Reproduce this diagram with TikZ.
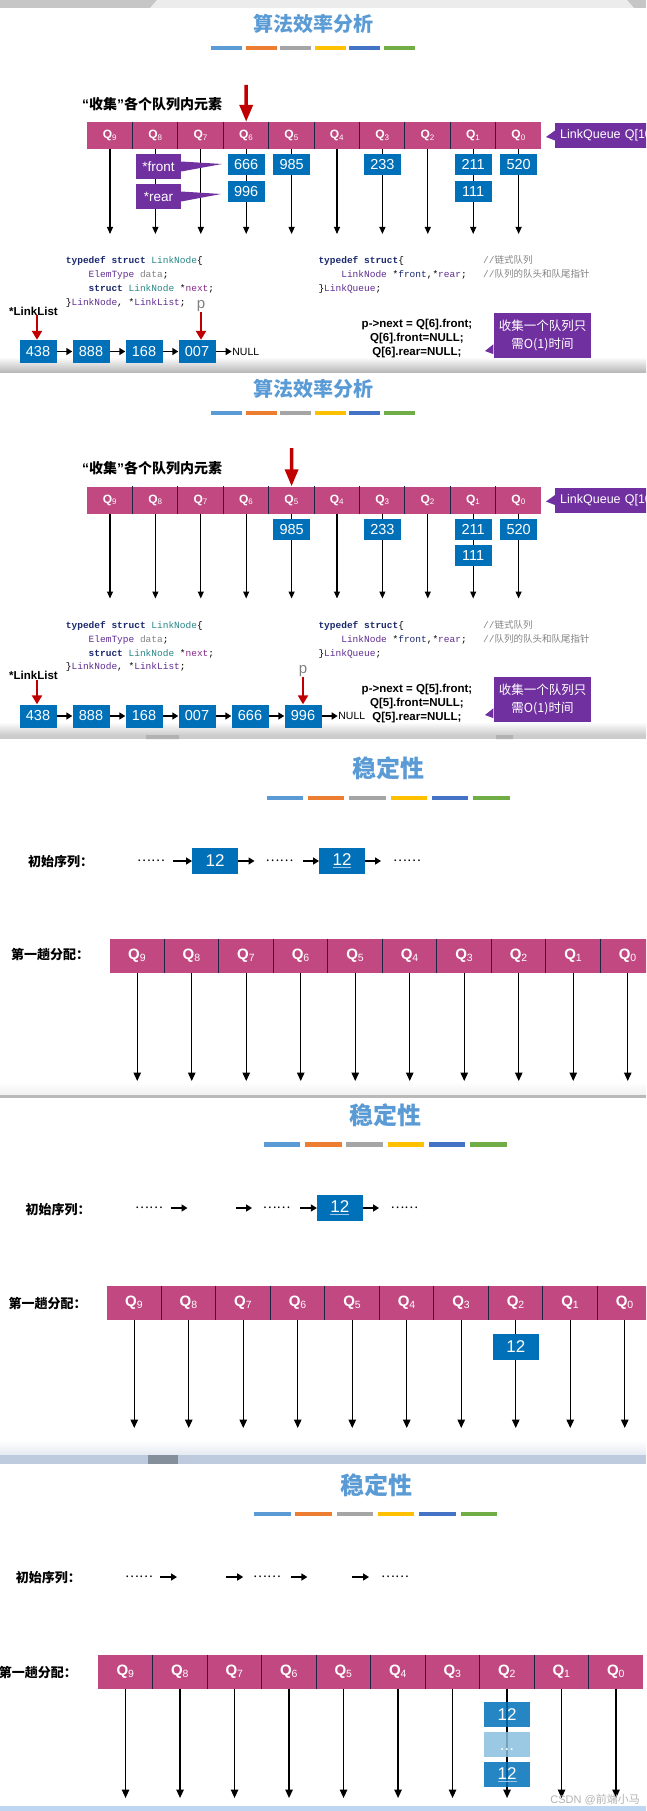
\documentclass[tikz,border=0pt]{standalone}
\usepackage{fontspec}
\setmainfont{Liberation Sans}
\setmonofont{Liberation Mono}
\newfontfamily\cjk{Noto Sans CJK SC}
\usetikzlibrary{arrows.meta,positioning}

\definecolor{qpink}{RGB}{193,72,128}
\definecolor{nblue}{RGB}{0,112,184}
\definecolor{lblue}{RGB}{138,190,222}
\definecolor{ppurple}{RGB}{112,48,160}
\definecolor{rred}{RGB}{192,0,0}
\definecolor{ttl}{RGB}{91,155,213}
\definecolor{bar1}{RGB}{91,155,213}
\definecolor{bar2}{RGB}{237,125,49}
\definecolor{bar3}{RGB}{165,165,165}
\definecolor{bar4}{RGB}{255,192,0}
\definecolor{bar5}{RGB}{68,114,196}
\definecolor{bar6}{RGB}{112,173,71}
\definecolor{qdiv}{RGB}{30,36,70}
\definecolor{kwc}{RGB}{26,40,110}
\definecolor{tyc}{RGB}{40,135,135}
\definecolor{vtc}{RGB}{95,45,145}
\definecolor{mgc}{RGB}{135,40,135}
\definecolor{cmt}{RGB}{130,130,130}
\definecolor{ulblue}{RGB}{160,200,235}
\definecolor{slate}{RGB}{190,202,222}
\definecolor{edgeblue}{RGB}{190,214,242}

\newcommand\fsz[1]{\fontsize{#1}{#1}\selectfont}
\newcommand\qn[1]{Q\textsubscript{\mdseries#1}}
\newcommand\ulnum[1]{{\color{ulblue}\underline{\textcolor{white}{#1}}}}
\newcommand\ckw[1]{\textcolor{kwc}{\textbf{#1}}}
\newcommand\cty[1]{\textcolor{tyc}{#1}}
\newcommand\cvt[1]{\textcolor{vtc}{#1}}
\newcommand\cmg[1]{\textcolor{mgc}{#1}}
\newcommand\cgr[1]{\textcolor{cmt}{#1}}
\newcommand\latq[1]{{\normalfont\bfseries#1}}

\begin{document}
\begin{tikzpicture}[x=1pt,y=-1pt,
  title/.style={text=ttl,font=\cjk\bfseries\fsz{20},inner sep=0},
  note/.style={font=\cjk\bfseries\fsz{14},inner sep=0},
  qcell/.style={fill=qpink,text=white,minimum width=45.4pt,minimum height=27pt,inner sep=0,font=\bfseries\fsz{12}},
  qbig/.style={qcell,minimum width=54.5pt,minimum height=33.5pt,font=\bfseries\fsz{15}},
  qsep/.style={draw=qdiv,line width=0.9pt},
  numbox/.style={fill=nblue,text=white,minimum width=37pt,minimum height=21pt,inner sep=0,font=\fsz{14.5}},
  lbox/.style={numbox,minimum height=23pt},
  bigbox/.style={numbox,minimum width=45.5pt,minimum height=25.5pt,font=\fsz{17}},
  down/.style={-{Triangle[width=6pt,length=7pt]},line width=1.1pt},
  downbig/.style={-{Triangle[width=7.5pt,length=8.5pt]},line width=1.3pt},
  link/.style={-{Triangle[width=7pt,length=6pt]},line width=1.8pt},
  redarr/.style={draw=rred,line width=3.5pt,-{Triangle[width=13pt,length=17pt]}},
  redsm/.style={draw=rred,line width=2.6pt,-{Triangle[width=10pt,length=9pt]}},
  ptr/.style={fill=ppurple,text=white,minimum width=45pt,minimum height=25pt,inner sep=0,font=\fsz{13.5}},
  lqlab/.style={fill=ppurple,text=white,anchor=west,text width=100pt,align=left,inner xsep=5pt,inner ysep=0,minimum height=25pt,font=\fsz{12.5}},
  pcall/.style={fill=ppurple,text=white,minimum width=97.7pt,minimum height=45pt,inner sep=0,align=center,font=\cjk\fontsize{12.5}{18}\selectfont},
  wedge/.style={fill=ppurple},
  code/.style={anchor=north west,align=left,inner sep=0,font=\ttfamily\fontsize{9.5}{13.9}\selectfont},
  ops/.style={align=center,inner sep=0,font=\bfseries\fontsize{11.5}{14}\selectfont},
  lltxt/.style={font=\bfseries\fsz{11.5},inner sep=0},
  plab/.style={text=gray,font=\fsz{15},inner sep=0},
  nulltxt/.style={font=\fsz{10.5},inner sep=0.5pt},
  lbl/.style={font=\cjk\bfseries\fsz{13},inner sep=0},
  dots/.style={font=\cjk\fsz{13},inner sep=0},
  wm/.style={text=gray!60,font=\fsz{11},inner sep=0}]
\useasboundingbox (0,0) rectangle (646,1811);
\clip (0,0) rectangle (646,1811);

% slide edges
\fill[gray!45] (0,0) rectangle (646,8);
\fill[gray!15] (150,8) -- (157,0) -- (627,0) -- (634,8) -- cycle;
\shade[top color=white,bottom color=gray!55] (0,357) rectangle (646,372);
\shade[top color=white,bottom color=gray!40] (0,722) rectangle (646,735);
\fill[gray!40] (0,735) rectangle (646,739);
\fill[gray!60] (146,735) rectangle (179,739) (496,735) rectangle (513,739);
\shade[top color=white,bottom color=gray!12] (0,1082) rectangle (646,1095);
\fill[gray!55] (0,1095) rectangle (646,1098);
\shade[top color=white,bottom color=slate!40] (0,1440) rectangle (646,1455);
\fill[slate] (0,1455) rectangle (646,1464);
\fill[slate!70!black] (148,1455) rectangle (178,1464);
\fill[edgeblue] (0,1806) rectangle (646,1811);

% collect slides
\foreach \p/\dy in {1/0,2/364.5}{
\begin{scope}[yshift=-\dy pt]
  \node[title] (t\p) at (313,24) {算法效率分析};
  \foreach \c [count=\j from 0] in {bar1,bar2,bar3,bar4,bar5,bar6}
    \fill[\c] ({211+34.6*\j},46) rectangle +(31,4.5);
  \node[note,anchor=west] (note\p) at (82,104) {\latq{“}收集\latq{”}各个队列内元素};
  \foreach \i in {0,...,9}
    \node[qcell] (q\p-\i) at ({110+45.4*(9-\i)},135.5) {\qn{\i}};
  \foreach \i in {0,...,8}
    \draw[qsep] (q\p-\i.north west) -- (q\p-\i.south west);
  \node[lqlab] (lq\p) at (555,135.5) {LinkQueue Q[10]};
  \coordinate (lqt\p) at (546,137);
  \fill[wedge] ([yshift=5pt]lq\p.west) -- (lqt\p) -- ([yshift=-5pt]lq\p.west) -- cycle;
  \foreach \i in {0,...,9}{
    \coordinate (e\p-\i) at ({110+45.4*(9-\i)},234);
    \draw[down] (q\p-\i) -- (e\p-\i);
  }
  \node[code] (cn\p) at (65.7,255.5) {\rule{0pt}{8pt}\ckw{typedef struct} \cty{LinkNode}\{\\
    \hphantom{xxxx}\cvt{ElemType} \cgr{data};\\
    \hphantom{xxxx}\ckw{struct} \cty{LinkNode} *\cmg{next};\\
    \}\cvt{LinkNode}, *\cvt{LinkList};};
  \node[code] (cq\p) at (318.3,255.5) {\rule{0pt}{8pt}\ckw{typedef struct}\{\\
    \hphantom{xxxx}\cvt{LinkNode} *\textcolor{kwc}{front},*\cvt{rear};\\
    \}\cvt{LinkQueue};};
  \node[code,text=cmt] (cc\p) at (483,255.5) {\rule{0pt}{8pt}//{\cjk 链式队列}\\
    //{\cjk 队列的队头和队尾指针}};
\end{scope}
}

% slide 1
\coordinate (r1) at (246.2,85);
\draw[redarr] (r1) -- (q1-6.north);
\node[numbox,below=5pt of q1-6] (n1-666) {666};
\node[numbox,below=5pt of n1-666] (n1-996) {996};
\node[numbox,below=5pt of q1-5] (n1-985) {985};
\node[numbox,below=5pt of q1-3] (n1-233) {233};
\node[numbox,below=5pt of q1-1] (n1-211) {211};
\node[numbox,below=5pt of n1-211] (n1-111) {111};
\node[numbox,below=5pt of q1-0] (n1-520) {520};
\node[ptr] (front1) at (158.5,166.5) {*front};
\node[ptr] (rear1) at (158.5,196.5) {*rear};
\coordinate (ft1) at (222,164);
\coordinate (rt1) at (221,194);
\fill[wedge] ([yshift=5pt]front1.east) -- (ft1) -- ([yshift=-5pt]front1.east) -- cycle;
\fill[wedge] ([yshift=5pt]rear1.east) -- (rt1) -- ([yshift=-5pt]rear1.east) -- cycle;
\foreach \v [count=\j] in {438,888,168,007}
  \node[lbox] (l1-\j) at ({38+53*(\j-1)},351.5) {\v};
\node[nulltxt,right=16pt of l1-4] (null1) {NULL};
\foreach \a [count=\b from 2] in {1,2,3}
  \draw[link] (l1-\a) -- (l1-\b);
\draw[link] (l1-4) -- (null1);
\node[lltxt,anchor=west] (ll1) at (9,311) {*LinkList};
\coordinate (ll1-a) at (37,315);
\draw[redsm] (ll1-a) -- (ll1-a |- l1-1.north);
\node[plab] (p1) at (201,306) {p};
\draw[redsm] (p1.south) -- (p1.south |- l1-4.north);
\node[ops] (ops1) at (417,339) {p->next = Q[6].front;\\Q[6].front=NULL;\\Q[6].rear=NULL;};
\node[pcall] (cb1) at (542.5,335.5) {收集一个队列只\\需O(1)时间};
\coordinate (cbt1) at (485,351);
\fill[wedge] ([yshift=4pt]cb1.south west) -- (cbt1) -- ([yshift=14pt]cb1.south west) -- cycle;

% slide 2
\coordinate (r2) at (291.6,448);
\draw[redarr] (r2) -- (q2-5.north);
\node[numbox,below=5pt of q2-5] (n2-985) {985};
\node[numbox,below=5pt of q2-3] (n2-233) {233};
\node[numbox,below=5pt of q2-1] (n2-211) {211};
\node[numbox,below=5pt of n2-211] (n2-111) {111};
\node[numbox,below=5pt of q2-0] (n2-520) {520};
\foreach \v [count=\j] in {438,888,168,007,666,996}
  \node[lbox] (l2-\j) at ({38+53*(\j-1)},716) {\v};
\node[nulltxt,right=16pt of l2-6] (null2) {NULL};
\foreach \a [count=\b from 2] in {1,2,3,4,5}
  \draw[link] (l2-\a) -- (l2-\b);
\draw[link] (l2-6) -- (null2);
\node[lltxt,anchor=west] (ll2) at (9,675) {*LinkList};
\coordinate (ll2-a) at (37,680);
\draw[redsm] (ll2-a) -- (ll2-a |- l2-1.north);
\node[plab] (p2) at (303,671) {p};
\draw[redsm] (p2.south) -- (p2.south |- l2-6.north);
\node[ops] (ops2) at (417,703.5) {p->next = Q[5].front;\\Q[5].front=NULL;\\Q[5].rear=NULL;};
\node[pcall] (cb2) at (542.5,699.5) {收集一个队列只\\需O(1)时间};
\coordinate (cbt2) at (485,715);
\fill[wedge] ([yshift=4pt]cb2.south west) -- (cbt2) -- ([yshift=14pt]cb2.south west) -- cycle;

% stability slides
\foreach \p/\tx/\ty/\bx/\by/\lx/\sy/\fy/\qx/\qy/\ey in {3/388/768/266.6/795.5/28/862/955/110/939/1081,4/385.8/1115.7/263.7/1142/25.5/1210/1303/107/1286/1428,5/376/1485.7/254/1511.7/15.7/1578/1672/98.3/1655/1798}{
  \node[title,font=\cjk\bfseries\fsz{24}] (t\p) at (\tx,\ty) {稳定性};
  \foreach \c [count=\j from 0] in {bar1,bar2,bar3,bar4,bar5,bar6}
    \fill[\c] ({\bx+41.3*\j},\by) rectangle +(36.5,4.5);
  \node[lbl,anchor=west] (init\p) at (\lx,\sy) {初始序列：};
  \node[lbl,anchor=west] (dist\p) at ({\lx-17},\fy) {第一趟分配：};
  \foreach \i in {0,...,9}
    \node[qbig] (q\p-\i) at ({\qx+27.25+54.5*(9-\i)},{\qy+16.75}) {\qn{\i}};
  \foreach \i in {0,...,8}
    \draw[qsep] (q\p-\i.north west) -- (q\p-\i.south west);
  \foreach \i in {0,...,9}{
    \coordinate (e\p-\i) at ({\qx+27.25+54.5*(9-\i)},\ey);
    \draw[downbig] (q\p-\i) -- (e\p-\i);
  }
}

% slide 3
\node[dots] (d3-1) at (151,861) {……};
\node[bigbox] (s3-a) at (215,861) {12};
\node[dots] (d3-2) at (279.5,861) {……};
\node[bigbox] (s3-b) at (342,861) {\ulnum{12}};
\node[dots] (d3-3) at (407,861) {……};
\draw[link,shorten <=8pt] (d3-1) -- (s3-a);
\draw[link,shorten >=11pt] (s3-a) -- (d3-2);
\draw[link,shorten <=9.5pt] (d3-2) -- (s3-b);
\draw[link,shorten >=12pt] (s3-b) -- (d3-3);

% slide 4
\node[dots] (d4-1) at (149,1208) {……};
\coordinate (g4-1) at (187.5,1208);
\coordinate (g4-2) at (236,1208);
\node[dots] (d4-2) at (276.7,1208) {……};
\node[bigbox] (s4-b) at (339.8,1208) {\ulnum{12}};
\node[dots] (d4-3) at (404.4,1208) {……};
\draw[link,shorten <=8pt] (d4-1) -- (g4-1);
\draw[link,shorten >=10.7pt] (g4-2) -- (d4-2);
\draw[link,shorten <=9.8pt] (d4-2) -- (s4-b);
\draw[link,shorten >=11.4pt] (s4-b) -- (d4-3);
\node[bigbox,below=14.3pt of q4-2] (b4-1) {12};

% slide 5
\node[dots] (d5-1) at (139,1577) {……};
\coordinate (g5-1) at (177,1577);
\coordinate (g5-2) at (225.8,1577);
\node[dots] (d5-2) at (267,1577) {……};
\coordinate (g5-3) at (307.4,1577);
\coordinate (g5-4) at (352,1577);
\node[dots] (d5-3) at (395,1577) {……};
\draw[link,shorten <=7.5pt] (d5-1) -- (g5-1);
\draw[link,shorten >=9.8pt] (g5-2) -- (d5-2);
\draw[link,shorten <=9.6pt] (d5-2) -- (g5-3);
\draw[link,shorten >=12pt] (g5-4) -- (d5-3);
\node[bigbox,fill opacity=.85,text opacity=1,below=13pt of q5-2] (b5-1) {12};
\node[bigbox,fill=lblue,fill opacity=.85,text opacity=1,text height=12pt,text depth=0pt,below=4pt of b5-1] (b5-2) {...};
\node[bigbox,fill opacity=.85,text opacity=1,below=4pt of b5-2] (b5-3) {\ulnum{12}};
\node[wm,anchor=east] (wm) at (640,1800) {CSDN @{\cjk 前端小马}};
\end{tikzpicture}
\end{document}
